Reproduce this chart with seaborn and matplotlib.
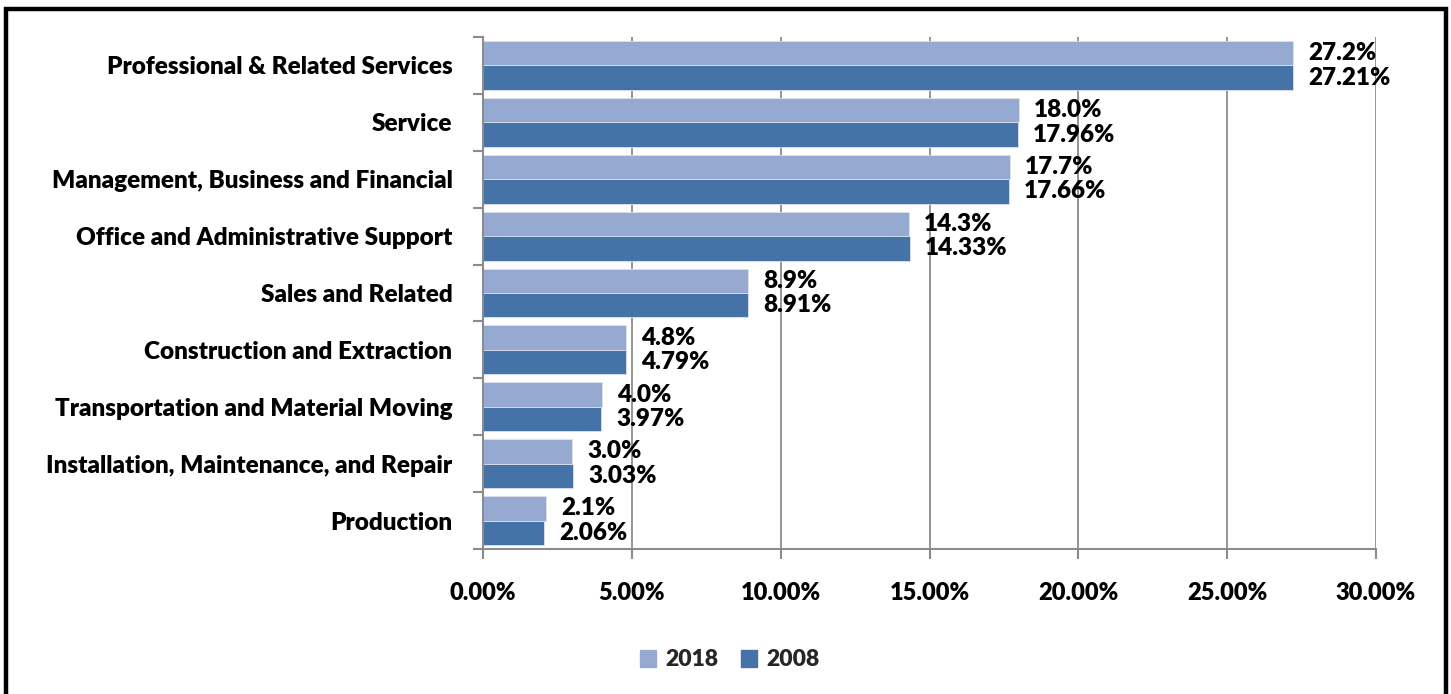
import matplotlib
matplotlib.use("Agg")
import matplotlib.pyplot as plt
import matplotlib.patches as mpatches
from matplotlib.ticker import FuncFormatter, FixedLocator
import seaborn as sns
import pandas as pd

categories = [
    "Professional & Related Services",
    "Service",
    "Management, Business and Financial",
    "Office and Administrative Support",
    "Sales and Related",
    "Construction and Extraction",
    "Transportation and Material Moving",
    "Installation, Maintenance, and Repair",
    "Production",
]
share_2018 = [27.2, 18.0, 17.7, 14.3, 8.9, 4.8, 4.0, 3.0, 2.1]
share_2008 = [27.21, 17.96, 17.66, 14.33, 8.91, 4.79, 3.97, 3.03, 2.06]
labels_2018 = ["27.2%", "18.0%", "17.7%", "14.3%", "8.9%", "4.8%", "4.0%", "3.0%", "2.1%"]
labels_2008 = ["27.21%", "17.96%", "17.66%", "14.33%", "8.91%", "4.79%", "3.97%", "3.03%", "2.06%"]
years = ["2018", "2008"]
x_ticks = [0, 5, 10, 15, 20, 25, 30]

light = "#95A9D1"
dark = "#4572A7"
grid_gray = "#8C8C8C"
WEIGHT = "heavy"

df = pd.DataFrame({
    "Occupation": categories * 2,
    "Share": share_2018 + share_2008,
    "Year": ["2018"] * len(categories) + ["2008"] * len(categories),
})

sns.set_theme(style="white")
plt.rcParams["font.family"] = ["Lato", "DejaVu Sans"]
plt.rcParams["font.weight"] = WEIGHT

W, H = 1451, 694
fig = plt.figure(figsize=(W / 100, H / 100), dpi=100)
ax = fig.add_axes([483 / W, 1 - 549 / H, (1376 - 483) / W, (549 - 37) / H])

sns.barplot(data=df, y="Occupation", x="Share", hue="Year", hue_order=years,
            order=categories, orient="h", palette=[light, dark],
            width=0.86, gap=0, ax=ax, legend=False,
            edgecolor="#DCE3F0", linewidth=0.6, saturation=1)

ax.set_xlim(0, 30)
ax.set_ylim(len(categories) - 0.5, -0.5)
ax.set_xlabel("")
ax.set_ylabel("")

# vertical gridlines
ax.xaxis.set_major_locator(FixedLocator(x_ticks))
ax.xaxis.set_major_formatter(FuncFormatter(lambda v, p: f"{v:.2f}%"))
ax.grid(axis="x", color=grid_gray, linewidth=1.3)
ax.set_axisbelow(True)

for side in ["top", "right"]:
    ax.spines[side].set_visible(False)
for side in ["left", "bottom"]:
    ax.spines[side].set_color(grid_gray)
    ax.spines[side].set_linewidth(1.5)

ax.tick_params(axis="x", which="major", length=7, width=1.5, color=grid_gray,
               direction="out", pad=17, labelsize=17, bottom=True)
ax.set_yticks(range(len(categories)))
ax.set_yticklabels(categories)
ax.tick_params(axis="y", which="major", length=0, pad=22, labelsize=17.5, left=False)
ax.set_yticks([i - 0.5 for i in range(len(categories) + 1)], minor=True)
ax.tick_params(axis="y", which="minor", length=7, width=1.5, color=grid_gray,
               direction="out", left=True)
for lbl in ax.get_xticklabels() + ax.get_yticklabels():
    lbl.set_fontweight(WEIGHT)
    lbl.set_color("black")

# value labels beside each bar
for container, texts in zip(ax.containers, [labels_2018, labels_2008]):
    ax.bar_label(container, labels=texts, padding=11, fontsize=17.5,
                 fontweight=WEIGHT, color="black")

# legend
handles = [mpatches.Patch(color=light, label="2018"),
           mpatches.Patch(color=dark, label="2008")]
fig.legend(handles=handles, loc="center", bbox_to_anchor=(730 / W, 1 - 660 / H),
           ncol=2, frameon=False, handlelength=0.7, handleheight=0.7,
           handletextpad=0.4, columnspacing=1.0,
           prop={"size": 16.5, "weight": WEIGHT})

# outer frame
frame = mpatches.Rectangle((5.5 / W, -0.01), (1445.5 - 5.5) / W, 1.01 - 9 / H,
                           transform=fig.transFigure, fill=False,
                           edgecolor="black", linewidth=3.2, clip_on=False)
fig.patches.append(frame)

fig.savefig("out.png", dpi=100)
